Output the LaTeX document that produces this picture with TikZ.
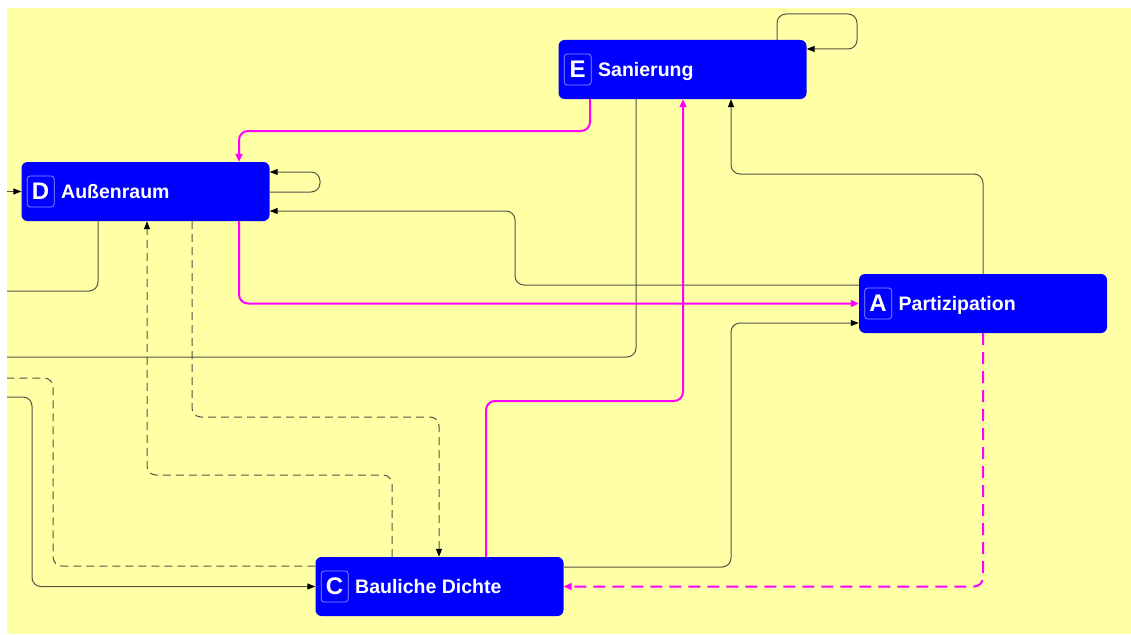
\documentclass[tikz,border=0pt]{standalone}
\usepackage{fontspec}
\setmainfont{Liberation Sans}
\usetikzlibrary{arrows.meta}
\definecolor{bg}{RGB}{255,255,165}
\definecolor{boxblue}{RGB}{0,0,255}
\definecolor{dk}{RGB}{85,85,70}
\definecolor{mg}{RGB}{255,0,255}
\definecolor{tagline}{RGB}{150,150,255}
\begin{document}
\begin{tikzpicture}[x=1pt,y=-1pt,
  cat/.style={rectangle, rounded corners=6pt, fill=boxblue, minimum width=248pt, minimum height=59pt, inner sep=0pt},
  tag/.style={rectangle, rounded corners=3pt, draw=tagline, line width=0.7pt, minimum width=27pt, minimum height=31pt, inner sep=0pt, text=white, font=\fontsize{24}{24}\selectfont\bfseries, anchor=west},
  lbl/.style={text=white, font=\fontsize{19.5}{22}\selectfont\bfseries, anchor=base west, inner sep=0pt},
  solidc/.style={draw=dk, line width=1pt, rounded corners=9pt},
  dashc/.style={solidc, dash pattern=on 8pt off 5pt},
  pinkc/.style={draw=mg, line width=2pt, rounded corners=9pt},
  pinkd/.style={pinkc, dash pattern=on 12pt off 7pt},
  tipk/.style={-{Triangle[length=8pt,width=6pt,color=black]}},
  tipm/.style={-{Triangle[length=8pt,width=7pt]}},
  ]
\useasboundingbox (0,0) rectangle (1131,634);
\fill[white] (0,0) rectangle (1131,634);
\fill[bg] (7,8) rectangle (1131,634);

% categories
\node[cat] (E) at (682.5,69.5) {};
\node[tag] (Et) at ([xshift=5.5pt]E.west) {E};
\node[lbl] (Ex) at ([xshift=6.5pt,yshift=-7pt]Et.east) {Sanierung};

\node[cat] (D) at (145.5,191.5) {};
\node[tag] (Dt) at ([xshift=5.5pt]D.west) {D};
\node[lbl] (Dx) at ([xshift=6.5pt,yshift=-7pt]Dt.east) {Außenraum};

\node[cat] (A) at (983,303.5) {};
\node[tag] (At) at ([xshift=5.5pt]A.west) {A};
\node[lbl] (Ax) at ([xshift=6.5pt,yshift=-7pt]At.east) {Partizipation};

\node[cat] (C) at (439.5,586.5) {};
\node[tag] (Ct) at ([xshift=5.5pt]C.west) {C};
\node[lbl] (Cx) at ([xshift=6.5pt,yshift=-7pt]Ct.east) {Bauliche Dichte};

% free ends at the left border
\coordinate (inD) at (7,191.5);
\coordinate (outD) at (7,291);
\coordinate (outE) at (7,357);
\coordinate (outC) at (7,378);
\coordinate (inC) at (7,397);

% connectors
\draw[solidc,tipk] (inD) -- (D.west);
\draw[solidc,tipk] (D.east |- 0,192) -- (320,192) -- (320,172) -- (D.east |- 0,172);
\draw[solidc,tipk] (A.west |- 0,285) -- (515,285) -- (515,211) -- (D.east |- 0,211);
\draw[solidc] (D.south -| 98,0) -- (98,291) -- (outD);
\draw[solidc] (E.south -| 636,0) -- (636,357) -- (outE);
\draw[solidc,tipk] (A.north -| 983,0) -- (983,174) -- (731,174) -- (E.south -| 731,0);
\draw[solidc,tipk] (E.north -| 777,0) -- (777,14) -- (857,14) -- (857,49) -- (E.east |- 0,49);
\draw[solidc,tipk] (C.east |- 0,567) -- (731,567) -- (731,323) -- (A.west |- 0,323);
\draw[solidc,tipk] (inC) -- (32,397) -- (32,586.5) -- (C.west);

\draw[dashc,tipk] (D.south -| 192,0) -- (192,417) -- (439,417) -- (C.north -| 439,0);
\draw[dashc,tipk] (C.north -| 392,0) -- (392,475) -- (147,475) -- (D.south -| 147,0);
\draw[dashc] (C.west |- 0,566) -- (53,566) -- (53,378) -- (outC);

\draw[pinkc,tipm] (E.south -| 590,0) -- (590,131) -- (239,131) -- (D.north -| 239,0);
\draw[pinkc,tipm] (D.south -| 239,0) -- (239,303.5) -- (A.west);
\draw[pinkc,tipm] (C.north -| 486,0) -- (486,401) -- (683,401) -- (E.south -| 683,0);
\draw[pinkd,tipm] (A.south -| 983,0) -- (983,586.5) -- (C.east);
\end{tikzpicture}
\end{document}
